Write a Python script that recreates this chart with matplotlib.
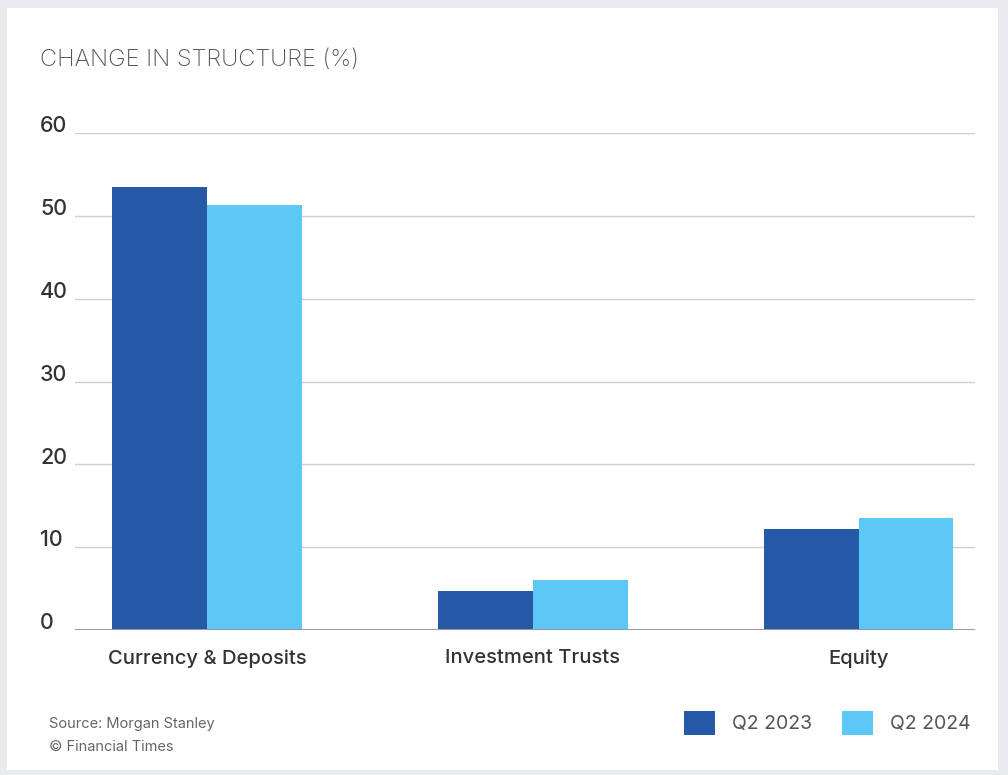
import matplotlib
matplotlib.use("Agg")
import matplotlib.pyplot as plt
from matplotlib.patches import Rectangle

# data
categories = ["Currency & Deposits", "Investment Trusts", "Equity"]
q2_2023 = [53.5, 4.7, 12.2]
q2_2024 = [51.3, 6.0, 13.5]
series_names = ["Q2 2023", "Q2 2024"]
yticks = [0, 10, 20, 30, 40, 50, 60]

dark = "#2659a8"
light = "#5bc8f5"

plt.rcParams['font.family'] = ['Inter', 'DejaVu Sans']

fig = plt.figure(figsize=(10.08, 7.75), dpi=100)
fig.patch.set_facecolor("#e9ebef")
# white card behind everything
card = Rectangle((7 / 1008, 5 / 775), 991 / 1008, 762 / 775,
                 transform=fig.transFigure, facecolor="white",
                 edgecolor="none", zorder=-10)
fig.add_artist(card)

ax = fig.add_axes([75 / 1008, 1 - 630 / 775, 900 / 1008, 497 / 775])
ax.set_facecolor("none")
ax.set_zorder(5)

x = list(range(len(categories)))
w = 0.29
ax.bar([i - w / 2 for i in x], q2_2023, width=w, color=dark, zorder=3,
       label=series_names[0])
ax.bar([i + w / 2 for i in x], q2_2024, width=w, color=light, zorder=3,
       label=series_names[1])

ax.set_ylim(0, 60)
ax.set_xlim(-0.405, 2.356)
ax.set_yticks(yticks)
ax.set_yticklabels([])
# y labels sit on top of their gridline, left aligned at the card margin
for t in yticks:
    ax.annotate(str(t), xy=(40 / 1008, t), xycoords=("figure fraction", "data"),
                xytext=(0, 0.5), textcoords="offset points",
                fontsize=15.5, color="#333333", fontweight="medium",
                ha="left", va="baseline", annotation_clip=False)
ax.tick_params(axis="y", length=0)
ax.tick_params(axis="x", length=0, pad=14)
ax.set_xticks(x)
ax.set_xticklabels(categories, fontsize=14.5, color="#333333", fontweight="medium")

ax.grid(axis="y", color="#cfcfcf", linewidth=1, zorder=0)
ax.axhline(0, color="#999999", linewidth=1.4, zorder=4)
for s in ax.spines.values():
    s.set_visible(False)

fig.text(40 / 1008, 1 - 60 / 775, "CHANGE IN STRUCTURE (%)", fontsize=17,
         color="#555555", fontweight="light", va="center", ha="left")
fig.text(49 / 1008, 1 - 724 / 775, "Source: Morgan Stanley", fontsize=10.5,
         color="#666666", va="center")
fig.text(49 / 1008, 1 - 747 / 775, "\u00a9 Financial Times", fontsize=10.5,
         color="#666666", va="center")

leg = ax.legend(loc="center right", bbox_to_anchor=(971 / 1008, 1 - 723 / 775),
                bbox_transform=fig.transFigure, ncol=2, frameon=False,
                fontsize=14, handlelength=1.6, handleheight=1.6,
                columnspacing=1.55, handletextpad=0.87, borderpad=0,
                borderaxespad=0)
for t in leg.get_texts():
    t.set_color("#555555")

fig.savefig("out.png", dpi=100)
